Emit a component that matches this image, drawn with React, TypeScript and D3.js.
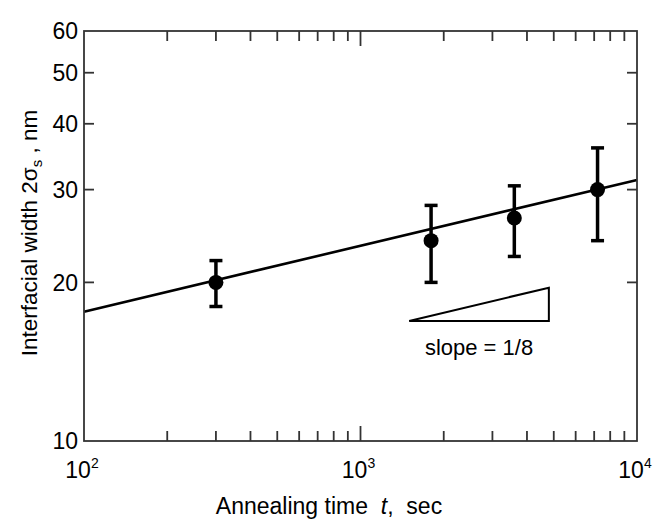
import React from 'react';
import * as d3 from 'd3';

// measured points (annealing time in sec, interfacial width in nm)
const times = [300, 1800, 3600, 7200];
const widths = [20, 24, 26.5, 30];
const errLow = [18, 20, 22.4, 24];
const errHigh = [22, 28, 30.5, 36];

// power-law fit  w = fitA * (t/100)^fitSlope
const fitA = 17.6;
const fitSlope = 1 / 8;

// slope triangle
const triX = [1500, 4800];
const triY0 = 16.9;

const yTicks = [10, 20, 30, 40, 50, 60];
const xMajor = [100, 1000, 10000];
const xMinor = [200, 300, 400, 500, 600, 700, 800, 900, 2000, 3000, 4000, 5000, 6000, 7000, 8000, 9000];
const xLabels = [{v: 100, e: '2'}, {v: 1000, e: '3'}, {v: 10000, e: '4'}];

const W = 653, H = 523;
const m = {left: 84, right: 637, top: 31, bottom: 441};
const font = '"Liberation Sans", Arial, sans-serif';

const App = () => {
    const x = d3.scaleLog().domain([100, 10000]).range([m.left, m.right]);
    const y = d3.scaleLog().domain([10, 60]).range([m.bottom, m.top]);

    const fitLine = d3.line<number>()
        .x(t => x(t))
        .y(t => y(fitA * Math.pow(t / 100, fitSlope)));

    const triY1 = triY0 * Math.pow(triX[1] / triX[0], fitSlope);
    const tri = `M${x(triX[0])},${y(triY0)} L${x(triX[1])},${y(triY0)} L${x(triX[1])},${y(triY1)} Z`;

    const frame = '#333';
    return (
        <svg width={W} height={H} style={{position: 'absolute', left: 0, top: 0}} fontFamily={font}>
            <rect x={0} y={0} width={W} height={H} fill="#fff"/>
            {/* fit line */}
            <path d={fitLine(x.domain()) || ''} stroke="#000" strokeWidth={2.6} fill="none"/>
            {/* slope triangle */}
            <path d={tri} stroke="#000" strokeWidth={2} fill="none"/>
            <text x={(x(triX[0]) + x(triX[1])) / 2} y={y(triY0) + 34} fontSize={22} textAnchor="middle">slope = 1/8</text>
            {/* error bars + points */}
            {times.map((t, i) => (
                <g key={t}>
                    <line x1={x(t)} x2={x(t)} y1={y(errLow[i])} y2={y(errHigh[i])} stroke="#000" strokeWidth={3.5}/>
                    <line x1={x(t) - 6.5} x2={x(t) + 6.5} y1={y(errLow[i])} y2={y(errLow[i])} stroke="#000" strokeWidth={3.5}/>
                    <line x1={x(t) - 6.5} x2={x(t) + 6.5} y1={y(errHigh[i])} y2={y(errHigh[i])} stroke="#000" strokeWidth={3.5}/>
                    <circle cx={x(t)} cy={y(widths[i])} r={7.5} fill="#000"/>
                </g>
            ))}
            {/* frame */}
            <rect x={m.left} y={m.top} width={m.right - m.left} height={m.bottom - m.top} fill="none" stroke={frame} strokeWidth={1.8}/>
            {/* y ticks, left and right */}
            {yTicks.slice(1, -1).map(v => (
                <g key={v}>
                    <line x1={m.left} x2={m.left + 10} y1={y(v)} y2={y(v)} stroke={frame} strokeWidth={1.8}/>
                    <line x1={m.right} x2={m.right - 10} y1={y(v)} y2={y(v)} stroke={frame} strokeWidth={1.8}/>
                </g>
            ))}
            {yTicks.map(v => (
                <text key={v} x={m.left - 6} y={y(v)} dy="0.36em" fontSize={23} textAnchor="end">{v}</text>
            ))}
            {/* x ticks, bottom and top */}
            {xMinor.map(v => (
                <g key={v}>
                    <line x1={x(v)} x2={x(v)} y1={m.bottom} y2={m.bottom - 10} stroke={frame} strokeWidth={1.8}/>
                    <line x1={x(v)} x2={x(v)} y1={m.top} y2={m.top + 10} stroke={frame} strokeWidth={1.8}/>
                </g>
            ))}
            {xMajor.slice(1, -1).map(v => (
                <g key={v}>
                    <line x1={x(v)} x2={x(v)} y1={m.bottom} y2={m.bottom - 15} stroke={frame} strokeWidth={1.8}/>
                    <line x1={x(v)} x2={x(v)} y1={m.top} y2={m.top + 15} stroke={frame} strokeWidth={1.8}/>
                </g>
            ))}
            {xLabels.map(d => (
                <text key={d.v} x={x(d.v) - 2} y={478} fontSize={23} textAnchor="middle">
                    10<tspan fontSize={14} dy={-10}>{d.e}</tspan>
                </text>
            ))}
            {/* axis titles */}
            <text x={329} y={514} fontSize={23} textAnchor="middle" style={{whiteSpace: 'pre'}}>
                {'Annealing time  '}<tspan fontStyle="italic">t</tspan>{',  sec'}
            </text>
            <text transform="translate(37,233) rotate(-90)" fontSize={22.5} textAnchor="middle" style={{whiteSpace: 'pre'}}>
                {'Interfacial width 2σ'}<tspan fontSize={15} dy={5}>s</tspan><tspan dy={-5}>{' , nm'}</tspan>
            </text>
        </svg>
    );
};

export default App;
